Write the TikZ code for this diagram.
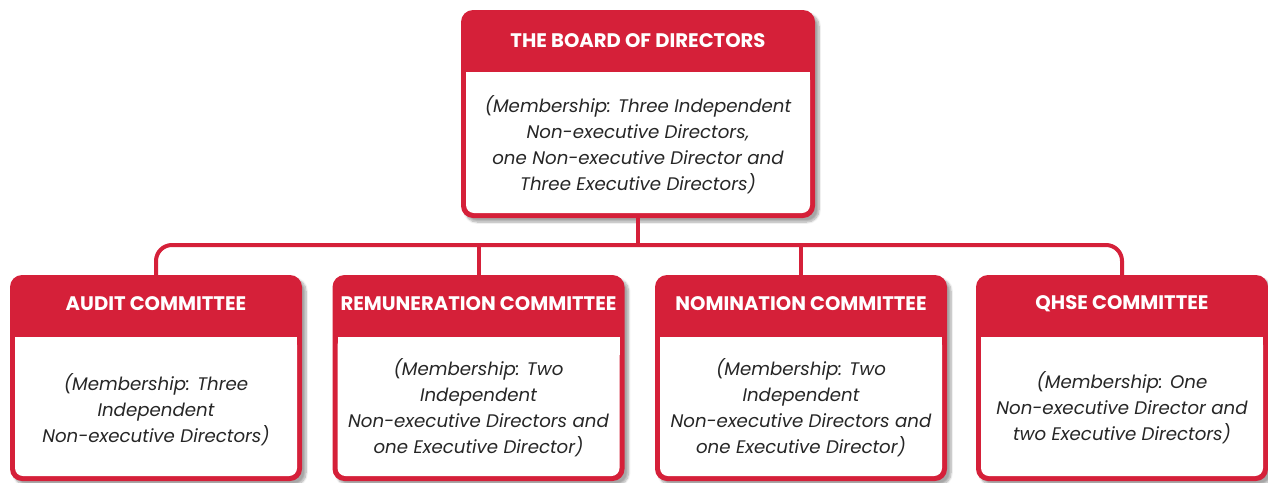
\documentclass[tikz,border=0pt]{standalone}
\usepackage{fontspec}
\setmainfont{Poppins}
\usetikzlibrary{shadows.blur}
\definecolor{boardred}{HTML}{D52039}

\begin{document}
\begin{tikzpicture}[x=1pt, y=-1pt,
    unit/.style={rectangle, rounded corners=12pt, fill=boardred, inner sep=0pt,
      blur shadow={shadow xshift=4pt, shadow yshift=-4pt, shadow opacity=35, shadow blur steps=8}},
    head/.style={text=white, inner sep=0pt, font=\bfseries\fontsize{19.6}{22}\selectfont},
    body/.style={align=center, inner sep=0pt, text=black!85, font=\itshape\fontsize{18.2}{26}\selectfont},
    link/.style={draw=boardred, line width=4pt}]
    \useasboundingbox (0,0) rectangle (1268,482);

    % board
    \node[unit, minimum width=354pt, minimum height=208pt] (board) at (638,114) {};
    \fill[white, rounded corners=8pt] (466,72) rectangle (810,213);
    \fill[white] (466,72) rectangle (810,90);
    \node[head] (board-hd) at (638,41) {THE BOARD OF DIRECTORS};
    \node[body] (board-txt) at (638,145) {(Membership: Three Independent\\ Non-executive Directors,\\ one Non-executive Director and\\ Three Executive Directors)};

    % committees
    \node[unit, minimum width=292pt, minimum height=206pt] (audit) at (156,378) {};
    \fill[white, rounded corners=8pt] (15,337) rectangle (297,476);
    \fill[white] (15,337) rectangle (297,355);
    \node[head] (audit-hd) at (156,304) {AUDIT COMMITTEE};
    \node[body] (audit-txt) at (156,410) {(Membership: Three\\ Independent\\ Non-executive Directors)};

    \node[unit, minimum width=292pt, minimum height=206pt] (remun) at (478.5,378) {};
    \fill[white, rounded corners=8pt] (337.5,337) rectangle (619.5,476);
    \fill[white] (337.5,337) rectangle (619.5,355);
    \node[head] (remun-hd) at (478.5,304) {REMUNERATION COMMITTEE};
    \node[body] (remun-txt) at (478.5,408) {(Membership: Two\\ Independent\\ Non-executive Directors and\\ one Executive Director)};

    \node[unit, minimum width=292pt, minimum height=206pt] (nomin) at (801,378) {};
    \fill[white, rounded corners=8pt] (660,337) rectangle (942,476);
    \fill[white] (660,337) rectangle (942,355);
    \node[head] (nomin-hd) at (801,304) {NOMINATION COMMITTEE};
    \node[body] (nomin-txt) at (801,408) {(Membership: Two\\ Independent\\ Non-executive Directors and\\ one Executive Director)};

    \node[unit, minimum width=292pt, minimum height=206pt] (qhse) at (1122,378) {};
    \fill[white, rounded corners=8pt] (981,337) rectangle (1263,476);
    \fill[white] (981,337) rectangle (1263,355);
    \node[head] (qhse-hd) at (1122,304) {QHSE COMMITTEE};
    \node[body] (qhse-txt) at (1122,408) {(Membership: One\\ Non-executive Director and\\ two Executive Directors)};

    % connectors
    \coordinate (bar) at (638,245);
    \draw[link] (board.south) -- (bar);
    \draw[link, rounded corners=16pt] (audit.north) |- (bar) -| (qhse.north);
    \draw[link] (remun.north) -- (remun.north |- bar);
    \draw[link] (nomin.north) -- (nomin.north |- bar);
\end{tikzpicture}
\end{document}
